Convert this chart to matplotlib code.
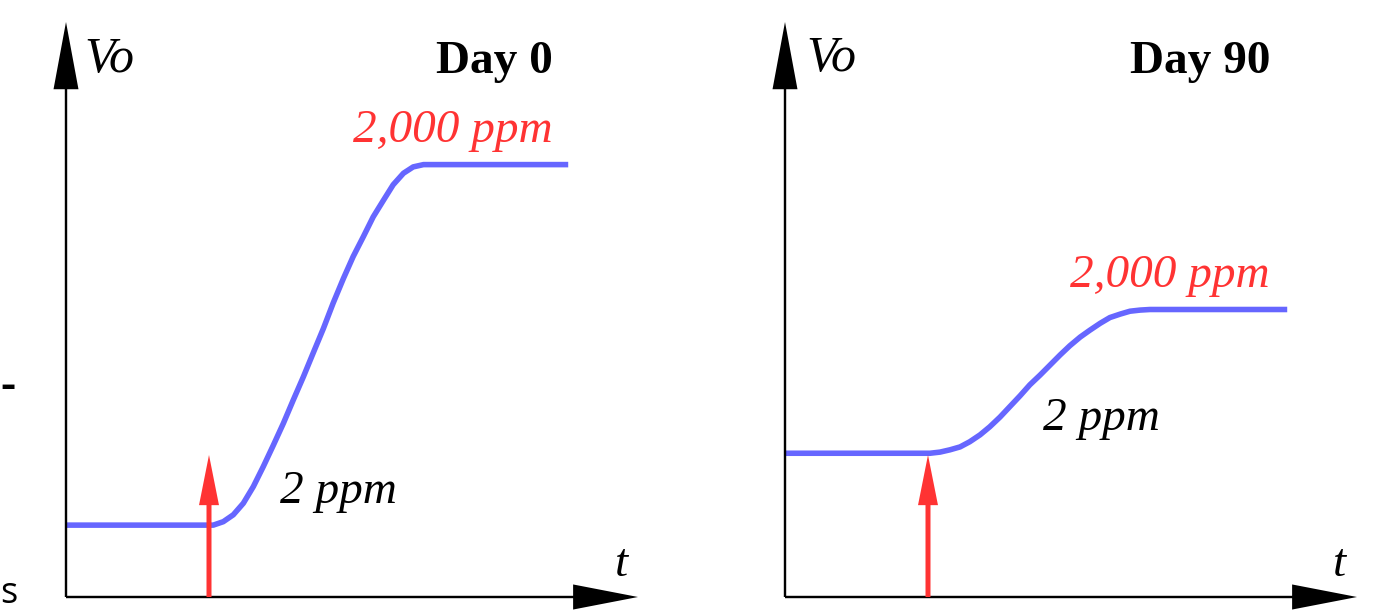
import matplotlib
matplotlib.use("Agg")
import matplotlib.pyplot as plt

# ---- data (arbitrary units, axes span 0..10) ----
panel_titles = ["Day 0", "Day 90"]
high_labels = ["2,000 ppm", "2,000 ppm"]
low_labels = ["2 ppm", "2 ppm"]

t_day0 = [0.0, 2.575, 2.75, 2.925, 3.10, 3.275, 3.45, 3.625, 3.80, 3.975, 4.15, 4.32,
          4.50, 4.67, 4.85, 5.02, 5.20, 5.37, 5.55, 5.72, 5.90, 6.07, 6.25, 8.78]
vo_day0 = [1.25, 1.25, 1.31, 1.43, 1.63, 1.92, 2.27, 2.64, 3.02, 3.43, 3.83, 4.24,
           4.67, 5.11, 5.54, 5.92, 6.27, 6.61, 6.90, 7.17, 7.37, 7.48, 7.52, 7.52]

t_day90 = [0.0, 2.535, 2.71, 2.885, 3.06, 3.23, 3.41, 3.58, 3.76, 3.93, 4.11, 4.28,
           4.46, 4.63, 4.81, 4.98, 5.16, 5.33, 5.51, 5.68, 5.86, 6.03, 6.21, 6.38, 8.78]
vo_day90 = [2.50, 2.50, 2.52, 2.56, 2.61, 2.70, 2.82, 2.96, 3.13, 3.31, 3.50, 3.69,
            3.86, 4.03, 4.21, 4.37, 4.52, 4.64, 4.76, 4.86, 4.92, 4.97, 4.99, 5.00, 5.00]

stim_t = [2.50, 2.50]
stim_tip = [2.47, 2.47]

# label anchor positions (data units)
high_label_pos = [(8.51, 7.91), (8.48, 5.39)]
low_label_pos = [(3.74, 1.63), (4.51, 2.90)]
vo_label_pos = [(0.33, 9.13), (0.38, 9.15)]
title_pos = [(8.51, 9.11), (8.48, 9.11)]
t_label_pos = [(9.60, 0.37), (9.58, 0.37)]

BLUE = "#6666FF"
RED = "#FF3333"
SERIF = "Liberation Serif"
FS = 34

W, H = 1385, 610
fig = plt.figure(figsize=(W / 100, H / 100), dpi=100)

panels = [(t_day0, vo_day0), (t_day90, vo_day90)]
lefts_px = [66, 785]
for i, (tt, vv) in enumerate(panels):
    ax = fig.add_axes([lefts_px[i] / W, (H - 597) / H, 572 / W, 575 / H])
    ax.set_xlim(0, 10)
    ax.set_ylim(0, 10)
    ax.axis("off")
    pxu = 57.3  # px per data unit (approx)
    # axes arrows
    ax.arrow(0, 0, 0, 10, width=2.4 / pxu, head_width=25 / pxu, head_length=67 / pxu,
             length_includes_head=True, color="black", clip_on=False, zorder=3, lw=0)
    ax.arrow(0, 0, 10, 0, width=2.4 / pxu, head_width=25 / pxu, head_length=65 / pxu,
             length_includes_head=True, color="black", clip_on=False, zorder=3, lw=0)
    # response curve
    ax.plot(tt, vv, color=BLUE, lw=4.0, solid_joinstyle="round",
            solid_capstyle="butt", clip_on=False, zorder=2)
    # stimulus arrow
    ax.arrow(stim_t[i], 0, 0, stim_tip[i], width=5 / pxu, head_width=20 / pxu,
             head_length=50 / pxu, length_includes_head=True, color=RED,
             clip_on=False, zorder=4, lw=0)
    # texts
    ax.text(*vo_label_pos[i], "Vo", family=SERIF, style="italic", fontsize=36,
            ha="left", va="baseline")
    ax.text(*title_pos[i], panel_titles[i], family=SERIF, weight="bold", fontsize=FS,
            ha="right", va="baseline")
    ax.text(*high_label_pos[i], high_labels[i], family=SERIF, style="italic",
            fontsize=FS, color=RED, ha="right", va="baseline")
    ax.text(*low_label_pos[i], low_labels[i], family=SERIF, style="italic",
            fontsize=FS, color="black", ha="left", va="baseline")
    ax.text(*t_label_pos[i], "t", family=SERIF, style="italic", fontsize=FS,
            ha="left", va="baseline")

# stray fragments at the left edge of the original crop
fig.text(0.5 / W, (H - 399) / H, "-", family="Open Sans", weight="semibold", fontsize=34,
         ha="left", va="baseline")
fig.text(0.5 / W, (H - 603) / H, "s", family="Open Sans", fontsize=26, ha="left", va="baseline")

fig.savefig("out.png", dpi=100, facecolor="white")
